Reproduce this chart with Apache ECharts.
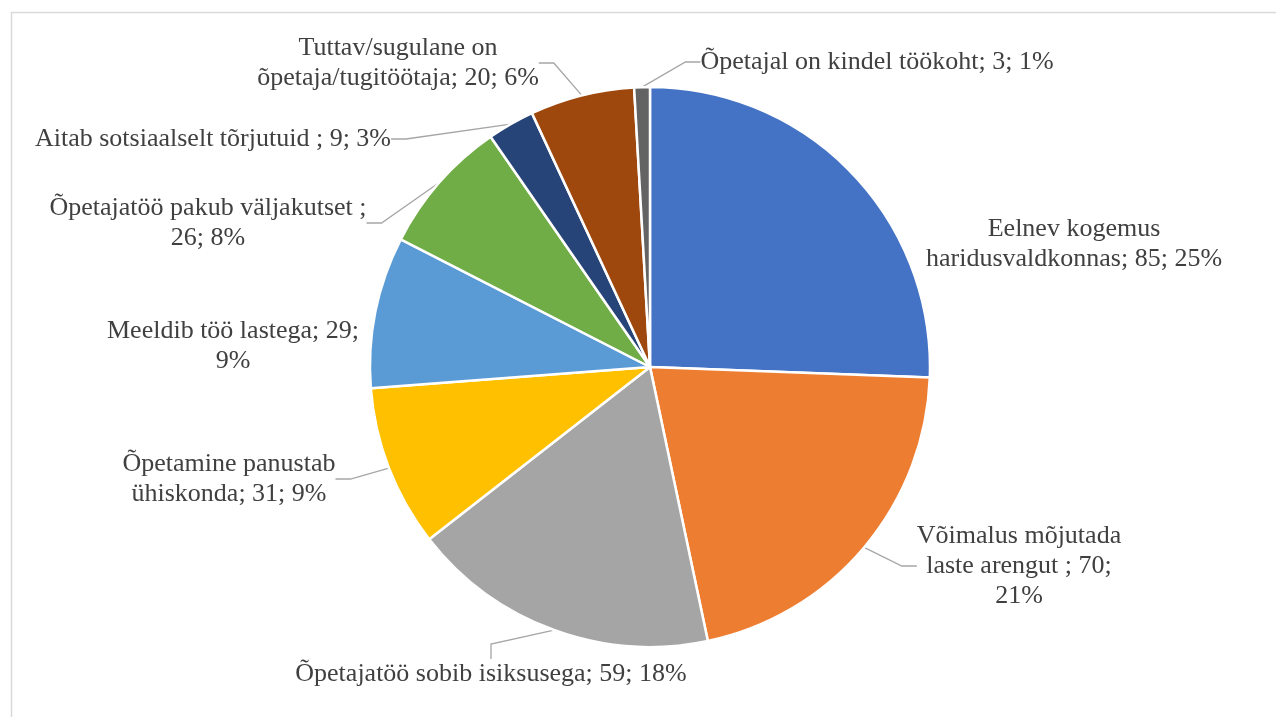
<!DOCTYPE html>
<html>
<head>
<meta charset="utf-8">
<script src="https://cdn.jsdelivr.net/npm/echarts@6/dist/echarts.min.js"></script>
<style>
  html, body { margin: 0; padding: 0; background: #fff; }
  #chart { width: 1276px; height: 717px; }
</style>
</head>
<body>
<div id="chart"></div>
<script>
// andmed
const names = [
  'Eelnev kogemus haridusvaldkonnas',
  'Võimalus mõjutada laste arengut ',
  'Õpetajatöö sobib isiksusega',
  'Õpetamine panustab ühiskonda',
  'Meeldib töö lastega',
  'Õpetajatöö pakub väljakutset ',
  'Aitab sotsiaalselt tõrjutuid ',
  'Tuttav/sugulane on õpetaja/tugitöötaja',
  'Õpetajal on kindel töökoht'
]
const values = [85, 70, 59, 31, 29, 26, 9, 20, 3]
const pctLabels = ['25%', '21%', '18%', '9%', '9%', '8%', '3%', '6%', '1%']

const colors = ['#4472c4', '#ed7d31', '#a5a5a5', '#ffc000', '#5b9bd5', '#70ad47', '#264478', '#9e480e', '#636363']

// sildi paigutus (keskpunkt) ja sõnade arv reas
const labelPos = [[1074, 244], [1019, 566], [491, 674], [229, 479], [233, 346], [208, 223], [213, 139], [398, 63], [877, 62]]
const wordsPerLine = [[2, 3], [2, 4, 1], [99], [2, 3], [4, 1], [4, 2], [99], [2, 3], [99]]
// Excel ei näita joont, kui silt on lõigu kõrval
const noLine = [0, 4]

function wrapLabel(text, counts) {
  const words = text.split(' ').filter(w => w !== '')
  const lines = []
  let k = 0
  counts.forEach(c => {
    if (k < words.length) {
      lines.push(words.slice(k, k + c).join(' '))
      k += c
    }
  })
  return lines.join('\n')
}

const myChart = echarts.init(document.getElementById('chart'))
myChart.setOption({
  animation: false,
  color: colors,
  graphic: [{
    type: 'rect',
    shape: { x: 11.5, y: 12.5, width: 1300, height: 750 },
    style: { fill: 'none', stroke: '#d9d9d9', lineWidth: 1.5 },
    silent: true
  }],
  series: [{
    type: 'pie',
    center: [650, 367],
    radius: 280,
    startAngle: 90,
    clockwise: true,
    itemStyle: {
      borderColor: '#fff',
      borderWidth: 2.5
    },
    label: {
      show: true,
      position: 'outside',
      fontFamily: 'Liberation Serif',
      fontSize: 26,
      lineHeight: 30,
      color: '#404040',
      align: 'center',
      formatter: (p) => wrapLabel(p.name + '; ' + p.value + '; ' + pctLabels[p.dataIndex], wordsPerLine[p.dataIndex])
    },
    labelLine: {
      show: true,
      length: 15,
      length2: 15,
      lineStyle: { color: '#a6a6a6', width: 1.3 }
    },
    labelLayout: (params) => {
      const pos = labelPos[params.dataIndex]
      return {
        x: pos[0],
        y: pos[1],
        align: 'center',
        verticalAlign: 'middle'
      }
    },
    data: names.map((n, i) => {
      return {
        name: n,
        value: values[i],
        labelLine: { show: noLine.indexOf(i) < 0 }
      }
    })
  }]
})
</script>
</body>
</html>
